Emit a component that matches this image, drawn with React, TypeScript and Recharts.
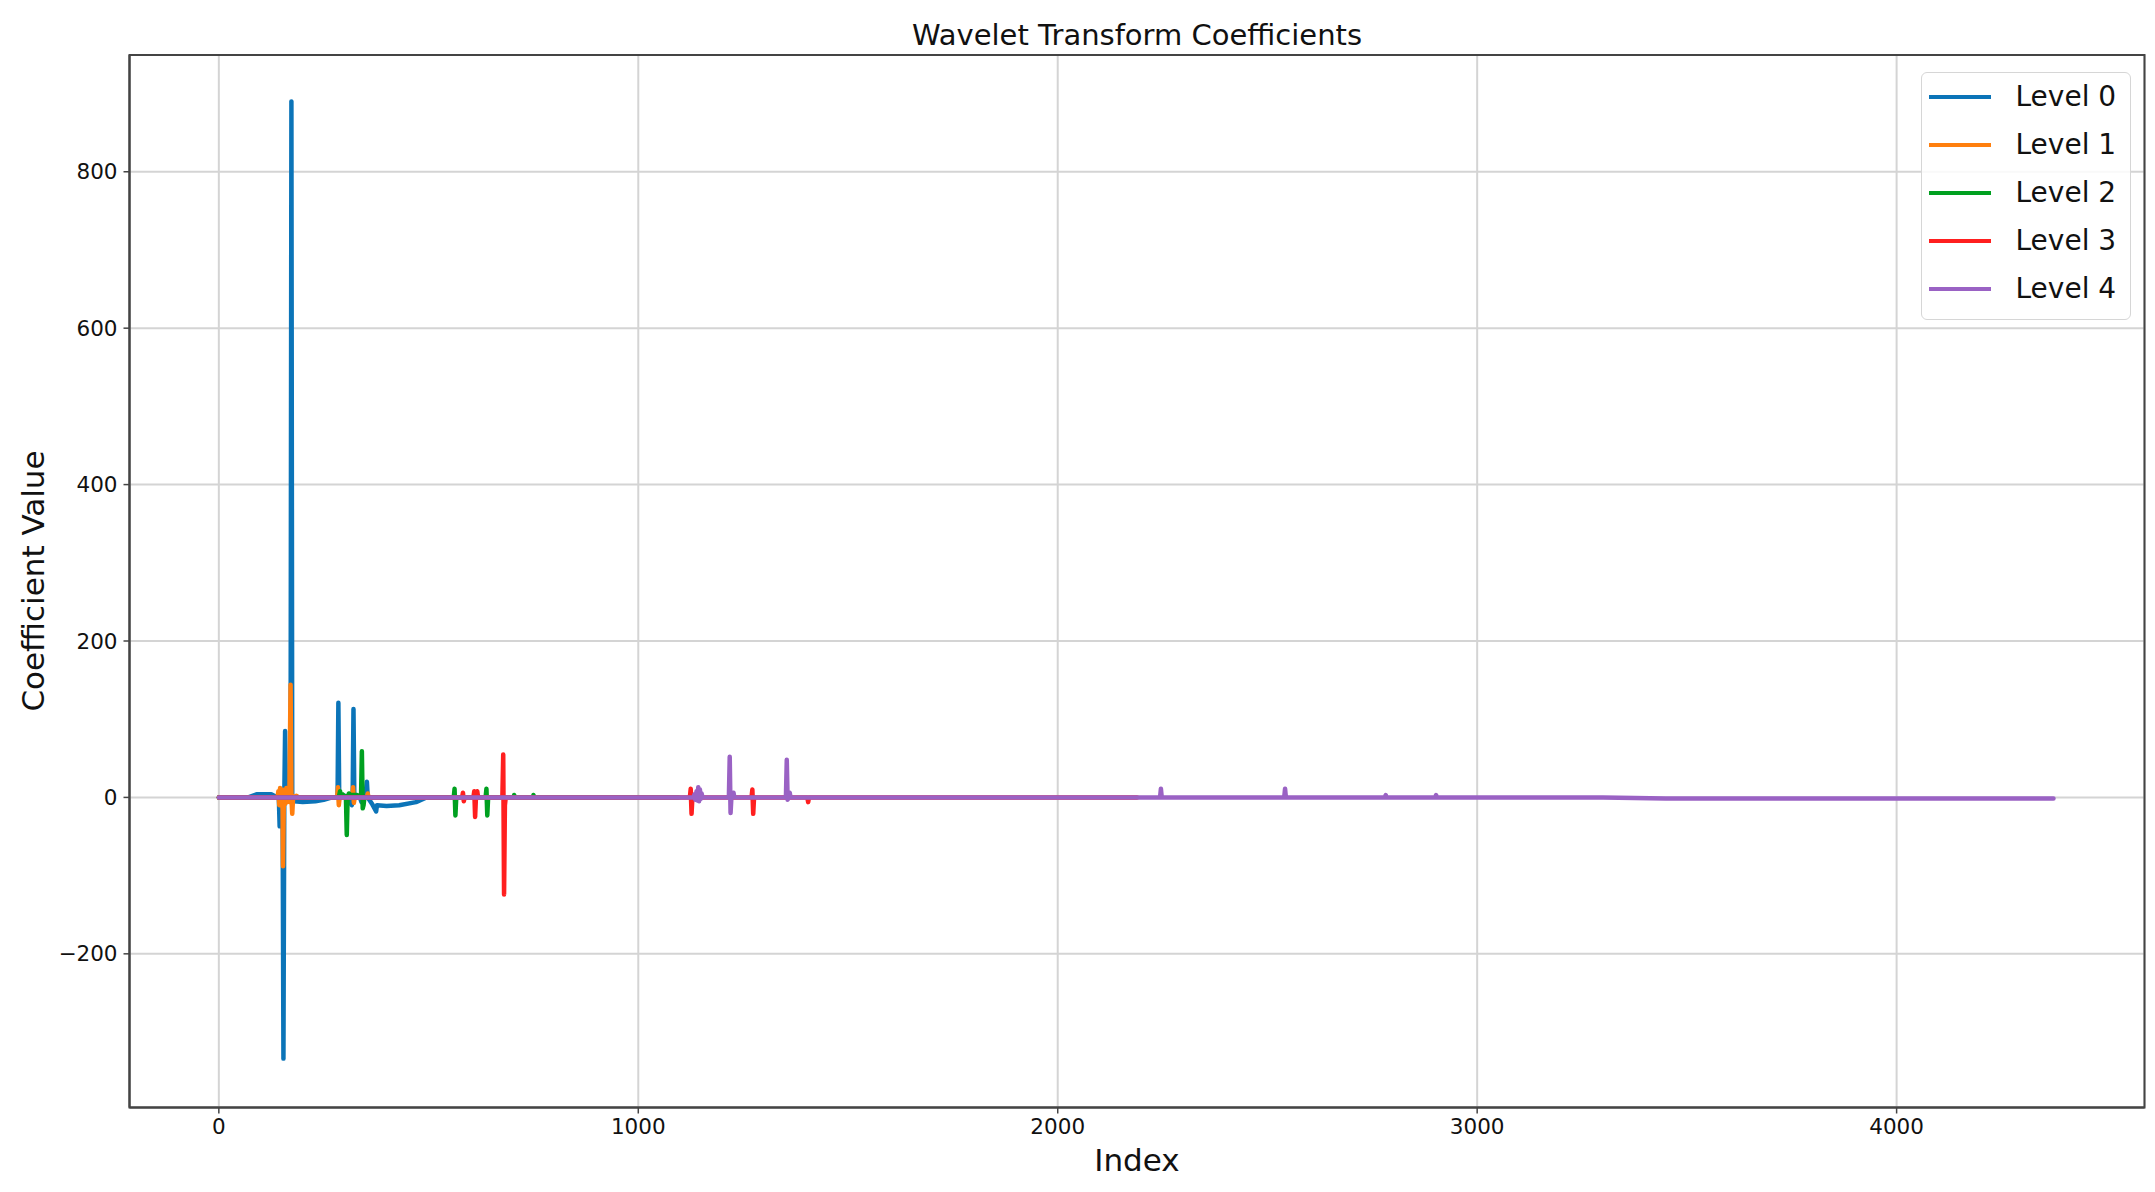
import React from 'react';
import { LineChart, Line, XAxis, YAxis, CartesianGrid, Legend, ReferenceArea } from 'recharts';

// [index, coefficient] pairs, per decomposition level
const level0: [number, number][] = [
  [0, 0], [70, 0], [90, 4], [125, 4], [140, 0], [143, 0], [145, -37], [147, 0], [150, 3], [152, -5],
  [154, -334], [156, 0], [158, 85], [160, 0], [168, 10], [171, 5], [173, 890], [175, 0], [180, -5],
  [200, -6], [230, -5], [250, -3], [270, 0], [283, 0], [285, 121], [287, 0], [300, 2], [317, -10],
  [319, 0], [321, 113], [323, 0], [335, 2], [340, -6], [350, 5], [353, 20], [355, 0], [365, -8],
  [375, -18], [377, -10], [400, -11], [430, -10], [470, -6], [495, 0], [550, 0],
];

const level1: [number, number][] = [
  [0, 0], [140, 0], [142, 8], [144, -10], [146, 12], [148, -6], [150, 10], [152, -15], [153, -88],
  [155, 0], [157, 10], [159, -8], [161, 12], [163, 0], [166, 8], [168, -6], [171, 144], [173, 0],
  [175, -21], [177, 0], [185, 2], [190, 0], [282, 0], [284, 13], [286, -10], [288, 0], [318, 0],
  [320, 13], [322, -7], [324, 0], [353, 0], [355, 5], [357, 0], [550, 0],
];

const level2: [number, number][] = [
  [0, 0], [286, 0], [289, 8], [291, 0], [295, 4], [303, 0], [305, -48], [307, 0], [310, 5], [315, 3],
  [330, 3], [339, 0], [341, 59], [343, -14], [345, -10], [347, 0], [560, 0], [562, 11], [564, -23],
  [566, 0], [636, 0], [638, 11], [640, -23], [642, 0], [703, 0], [704, 3], [706, 0], [749, 0],
  [750, 3], [752, 0], [1096, 0],
];

const level3: [number, number][] = [
  [0, 0], [580, 0], [582, 6], [584, -5], [586, 0], [607, 0], [609, 8], [611, -25], [613, 0],
  [616, 8], [618, 0], [676, 0], [678, 55], [680, -124], [682, -10], [684, 0], [1123, 0], [1125, 11],
  [1127, -21], [1129, 0], [1270, 0], [1272, 10], [1274, -21], [1276, 0], [1403, 0], [1405, -6],
  [1407, 0], [2189, 0],
];

const level4: [number, number][] = [
  [0, 0], [1132, 0], [1134, 4], [1136, -3], [1139, 8], [1141, -4], [1143, 13], [1145, -5],
  [1147, 10], [1149, -2], [1151, 5], [1153, 0], [1216, 0], [1218, 52], [1220, -20], [1222, 0],
  [1225, 0], [1227, 6], [1229, 0], [1352, 0], [1354, 48], [1356, -3], [1358, 0], [1361, 6],
  [1363, 0], [2244, 0], [2246, 11], [2248, 0], [2540, 0], [2542, 11], [2544, 0], [2780, 0],
  [2782, 3], [2784, 0], [2900, 0], [2902, 3], [2904, 0], [3300, 0], [3450, -1.5], [4374, -1.5],
];

const levelNames = ['Level 0', 'Level 1', 'Level 2', 'Level 3', 'Level 4'];
const levelColors = ['#0b74b8', '#ff7f0e', '#00a020', '#ff1f1f', '#9a62c4'];
const levels = [level0, level1, level2, level3, level4];

const xTicks = [0, 1000, 2000, 3000, 4000];
const yTicks = [-200, 0, 200, 400, 600, 800];

const FONT = 'DejaVu Sans, Verdana, sans-serif';
const xDomain: [number, number] = [-213, 4591];
const yDomain: [number, number] = [-396.5, 949.3];

const series = levels.map((pts) => pts.map(([x, y]) => ({ x, y })));

function LegendBox() {
  return (
    <div
      style={{
        position: 'relative',
        width: 210,
        height: 248,
        boxSizing: 'border-box',
        border: '1.5px solid #d6d6d6',
        borderRadius: 6,
        background: 'rgba(255,255,255,0.85)',
        fontFamily: FONT,
      }}
    >
      {levelNames.map((name, i) => (
        <div key={name} style={{ position: 'absolute', left: 0, top: i * 48, height: 48, width: '100%' }}>
          <div
            style={{
              position: 'absolute',
              left: 7,
              top: 22,
              width: 61.5,
              height: 4,
              background: levelColors[i],
            }}
          />
          <span
            style={{
              position: 'absolute',
              left: 93.5,
              top: 0,
              lineHeight: '48px',
              fontSize: 28,
              color: '#111',
              whiteSpace: 'nowrap',
            }}
          >
            {name}
          </span>
        </div>
      ))}
    </div>
  );
}

export default function App() {
  const tickStyle = { fontSize: 21.5, fill: '#111', fontFamily: FONT };
  return (
    <div style={{ position: 'absolute', left: 0, top: 0, width: 2155, height: 1192, background: '#fff' }}>
      <LineChart
        width={2155}
        height={1192}
        margin={{ top: 55, right: 10.5, bottom: 44.5, left: 29.5 }}
        style={{ fontFamily: FONT }}
      >
        <CartesianGrid stroke="#d4d4d4" strokeWidth={2} />
        <XAxis
          type="number"
          dataKey="x"
          domain={xDomain}
          allowDataOverflow
          ticks={xTicks}
          height={40}
          tick={tickStyle}
          tickSize={6}
          tickMargin={5}
          axisLine={{ stroke: '#444', strokeWidth: 2 }}
          tickLine={{ stroke: '#444', strokeWidth: 1.5 }}
        />
        <YAxis
          type="number"
          domain={yDomain}
          allowDataOverflow
          ticks={yTicks}
          width={100}
          tick={tickStyle}
          tickSize={6}
          tickMargin={6}
          tickFormatter={(v: number) => (v < 0 ? `\u2212${Math.abs(v)}` : `${v}`)}
          axisLine={{ stroke: '#444', strokeWidth: 2 }}
          tickLine={{ stroke: '#444', strokeWidth: 1.5 }}
        />
        <Legend
          layout="vertical"
          align="center"
          verticalAlign="middle"
          wrapperStyle={{ left: 1921, top: 72, width: 210, height: 248 }}
          content={() => <LegendBox />}
        />
        {series.map((data, i) => (
          <Line
            key={levelNames[i]}
            data={data}
            dataKey="y"
            name={levelNames[i]}
            type="linear"
            stroke={levelColors[i]}
            strokeWidth={4.5}
            strokeLinejoin="round"
            strokeLinecap="round"
            dot={false}
            activeDot={false}
            isAnimationActive={false}
          />
        ))}
        {/* axes frame */}
        <ReferenceArea
          x1={xDomain[0]}
          x2={xDomain[1]}
          y1={yDomain[0]}
          y2={yDomain[1]}
          fill="none"
          fillOpacity={0}
          stroke="#444"
          strokeWidth={2}
          ifOverflow="visible"
        />
      </LineChart>
      <svg
        width={2155}
        height={1192}
        style={{ position: 'absolute', left: 0, top: 0, pointerEvents: 'none', fontFamily: FONT }}
      >
        <text x={1137} y={45} textAnchor="middle" fontSize={29} fill="#111">
          Wavelet Transform Coefficients
        </text>
        <text x={1137} y={1171} textAnchor="middle" fontSize={31} fill="#111">
          Index
        </text>
        <text x={44} y={581} textAnchor="middle" fontSize={31} fill="#111" transform="rotate(-90 44 581)">
          Coefficient Value
        </text>
      </svg>
    </div>
  );
}
